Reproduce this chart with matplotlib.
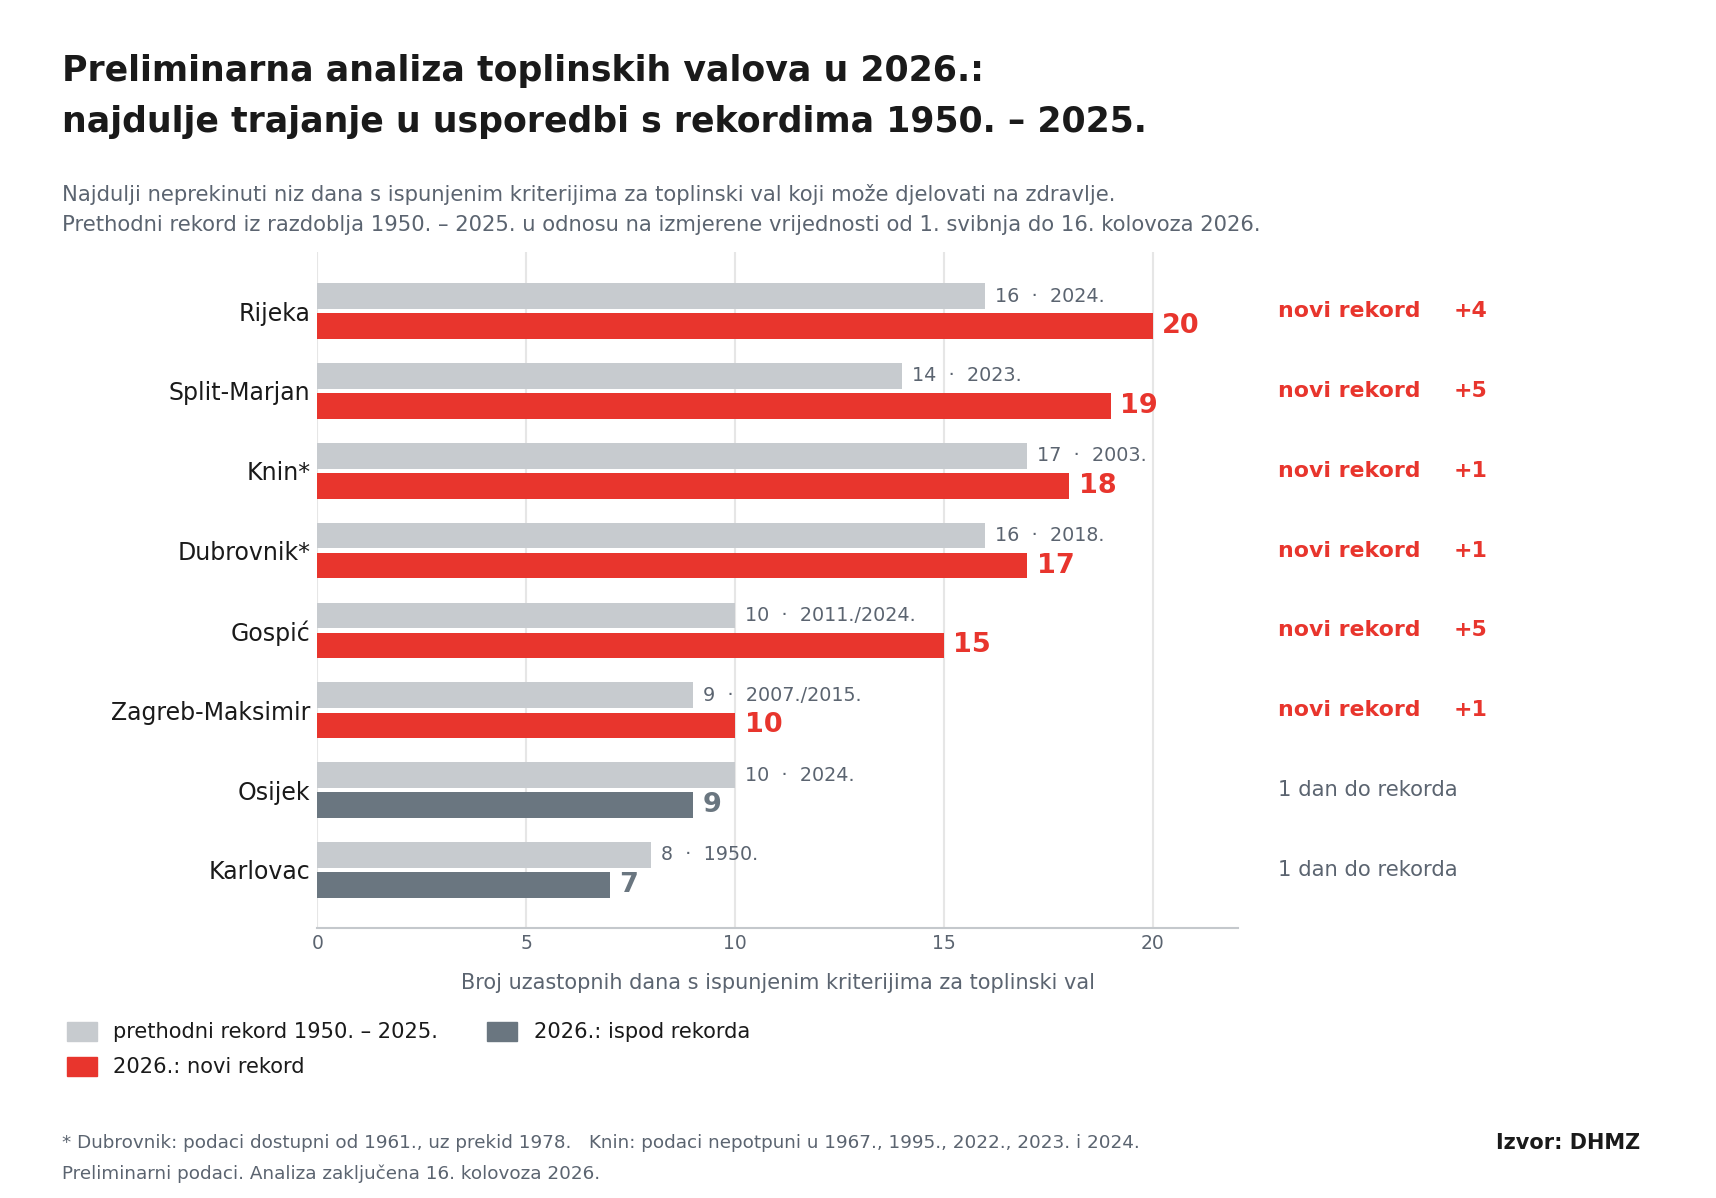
import numpy as np
import matplotlib
matplotlib.use("Agg")
import matplotlib.pyplot as plt
import matplotlib.patches as mpatches
import matplotlib.transforms as mtransforms

# data
cities = ["Rijeka", "Split-Marjan", "Knin*", "Dubrovnik*", "Gospić",
          "Zagreb-Maksimir", "Osijek", "Karlovac"]
prev_record = [16, 14, 17, 16, 10, 9, 10, 8]
prev_years = ["2024.", "2023.", "2003.", "2018.", "2011./2024.",
              "2007./2015.", "2024.", "1950."]
days_2026 = [20, 19, 18, 17, 15, 10, 9, 7]
x_ticks = [0, 5, 10, 15, 20]

RED = "#e8352d"
LIGHT = "#c7cbcf"
DARK = "#6a7680"
TXT_GRAY = "#5b6470"
BLACK = "#1a1a1a"

plt.rcParams['font.family'] = ['DejaVu Sans']

fig = plt.figure(figsize=(17.16, 11.98), dpi=100)
ax = fig.add_axes([0.185, 0.2252, 0.5365, 0.5644])

y = np.arange(len(cities))
off = 0.188
h = 0.32
is_new = [d > p for d, p in zip(days_2026, prev_record)]
cur_colors = [RED if n else DARK for n in is_new]

ax.barh(y - off, prev_record, height=h, color=LIGHT, zorder=2)
ax.barh(y + off, days_2026, height=h, color=cur_colors, zorder=2)

for i in range(len(cities)):
    ax.annotate(f"{prev_record[i]}  ·  {prev_years[i]}", (prev_record[i], y[i] - off),
                xytext=(7, 0), textcoords="offset points", va="center", ha="left",
                fontsize=13.8, color=TXT_GRAY)
    ax.annotate(str(days_2026[i]), (days_2026[i], y[i] + off),
                xytext=(7, 0), textcoords="offset points", va="center", ha="left",
                fontsize=19.5, fontweight="bold", color=cur_colors[i])

# right hand status column
tr = mtransforms.blended_transform_factory(fig.transFigure, ax.transData)
for i in range(len(cities)):
    if is_new[i]:
        ax.text(0.745, y[i], "novi rekord", transform=tr, va="center", ha="left",
                fontsize=15.8, fontweight="bold", color=RED)
        ax.text(0.847, y[i], f"+{days_2026[i] - prev_record[i]}", transform=tr,
                va="center", ha="left", fontsize=15.8, fontweight="bold", color=RED)
    else:
        ax.text(0.745, y[i], f"{prev_record[i] - days_2026[i]} dan do rekorda",
                transform=tr, va="center", ha="left", fontsize=15.2, color=TXT_GRAY)

ax.set_xlim(0, 22.05)
ax.set_ylim(7.73, -0.74)
ax.set_yticks(y)
ax.set_yticklabels(cities, fontsize=17, color=BLACK)
ax.set_xticks(x_ticks)
ax.tick_params(axis="x", length=0, labelsize=13.5, labelcolor=TXT_GRAY, pad=4.5)
ax.tick_params(axis="y", length=0, pad=5)
ax.grid(axis="x", color="#e6e6e6", lw=1.5, zorder=0)
for s in ["top", "right", "left"]:
    ax.spines[s].set_visible(False)
ax.spines["bottom"].set_color("#c4c8cc")
ax.spines["bottom"].set_linewidth(1.5)
ax.set_xlabel("Broj uzastopnih dana s ispunjenim kriterijima za toplinski val",
              fontsize=15, color=TXT_GRAY, labelpad=14)

# titles
fig.text(0.0364, 0.941, "Preliminarna analiza toplinskih valova u 2026.:",
         fontsize=25, fontweight="bold", color=BLACK, va="center")
fig.text(0.0364, 0.898, "najdulje trajanje u usporedbi s rekordima 1950. – 2025.",
         fontsize=25, fontweight="bold", color=BLACK, va="center")
fig.text(0.0364, 0.838,
         "Najdulji neprekinuti niz dana s ispunjenim kriterijima za toplinski val koji može djelovati na zdravlje.",
         fontsize=15.2, color=TXT_GRAY, va="center")
fig.text(0.0364, 0.8125,
         "Prethodni rekord iz razdoblja 1950. – 2025. u odnosu na izmjerene vrijednosti od 1. svibnja do 16. kolovoza 2026.",
         fontsize=15.2, color=TXT_GRAY, va="center")

# legend
W, H = 1716, 1198
legend_items = [(0.039, 0.066, 0.1386, LIGHT, "prethodni rekord 1950. – 2025."),
                (0.284, 0.311, 0.1386, DARK, "2026.: ispod rekorda"),
                (0.039, 0.066, 0.1096, RED, "2026.: novi rekord")]
for px, tx, ty, col, lab in legend_items:
    fig.add_artist(mpatches.Rectangle((px, ty - 9.5 / H), 30 / W, 19 / H,
                                      transform=fig.transFigure, color=col))
    fig.text(tx, ty, lab, fontsize=15.1, color=BLACK, va="center")

# footer
fig.text(0.0364, 0.0462,
         "* Dubrovnik: podaci dostupni od 1961., uz prekid 1978.   Knin: podaci nepotpuni u 1967., 1995., 2022., 2023. i 2024.",
         fontsize=13.2, color=TXT_GRAY, va="center")
fig.text(0.0364, 0.0205, "Preliminarni podaci. Analiza zaključena 16. kolovoza 2026.",
         fontsize=13.2, color=TXT_GRAY, va="center")
fig.text(0.956, 0.0455, "Izvor: DHMZ", fontsize=15, fontweight="bold",
         color=BLACK, va="center", ha="right")

fig.savefig("out.png", dpi=100, facecolor="white")
